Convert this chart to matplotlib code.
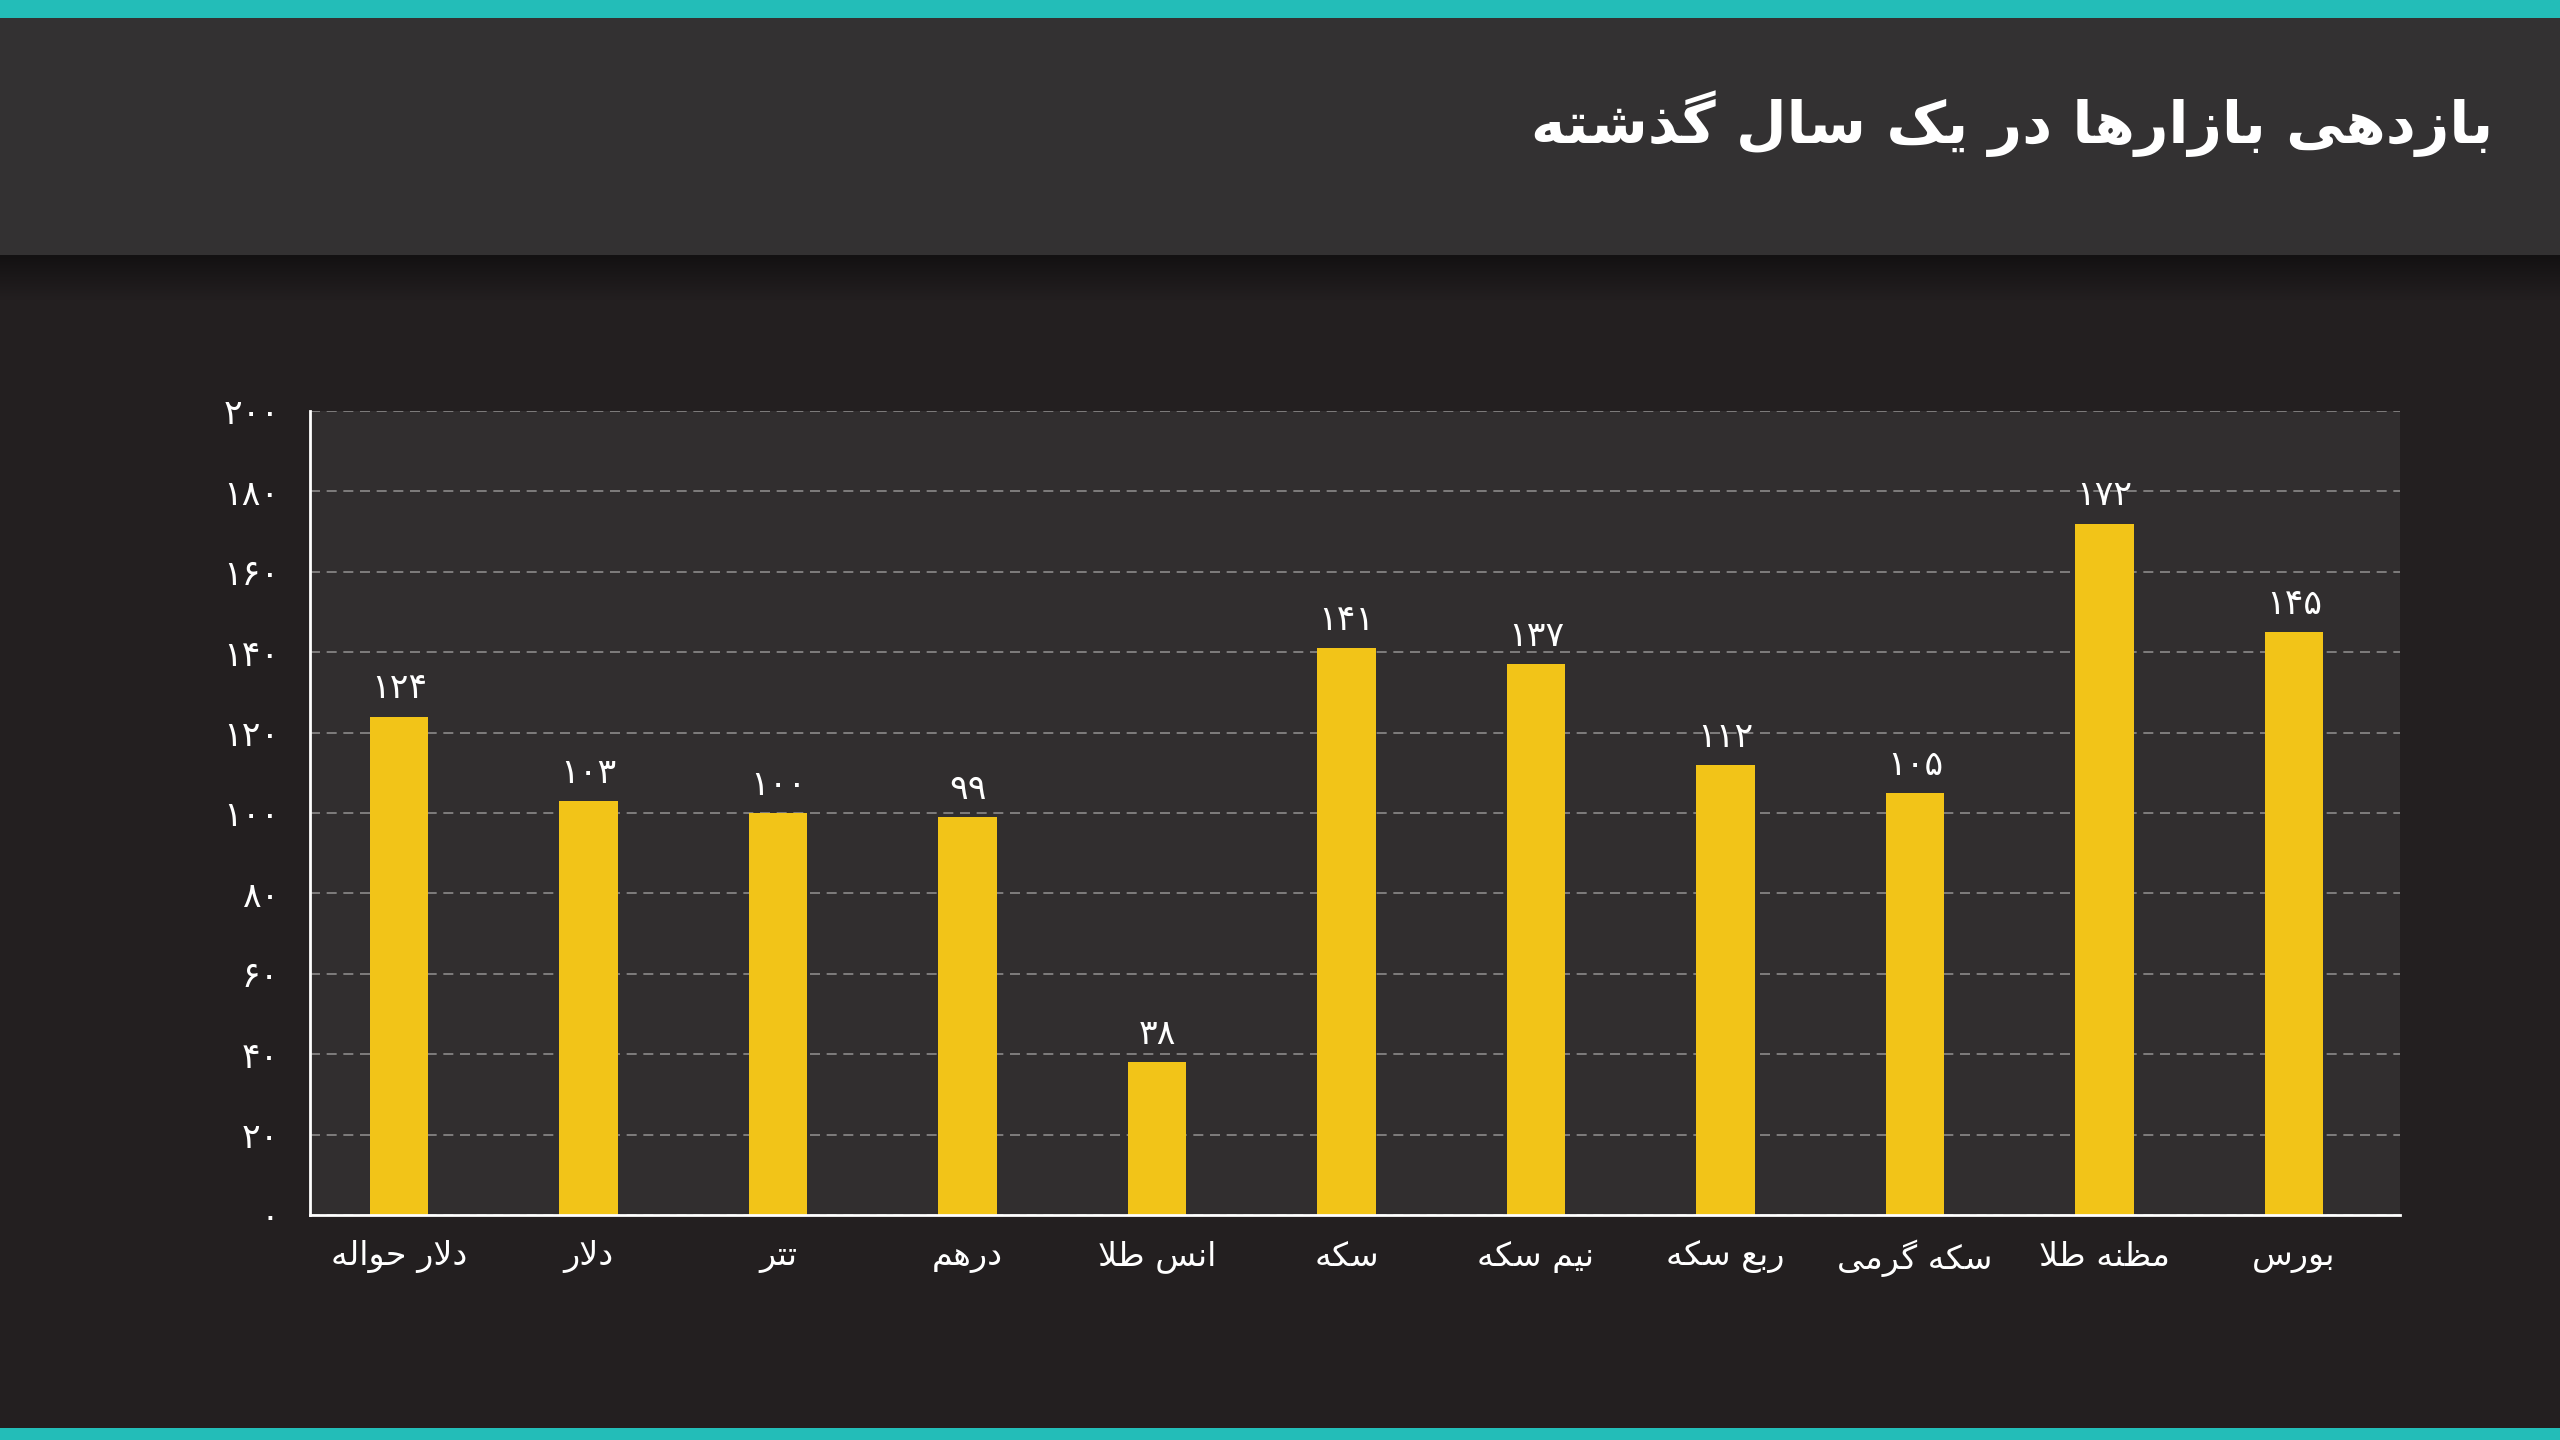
import numpy as np
import matplotlib
matplotlib.use("Agg")
import matplotlib.pyplot as plt
from matplotlib.colors import LinearSegmentedColormap
from matplotlib.patches import Rectangle

plt.rcParams['font.family'] = ['DejaVu Sans']

# data (left to right as shown)
categories = ['دلار حواله', 'دلار', 'تتر', 'درهم', 'انس طلا', 'سکه',
              'نیم سکه', 'ربع سکه', 'سکه گرمی', 'مظنه طلا', 'بورس']
returns = [124, 103, 100, 99, 38, 141, 137, 112, 105, 172, 145]
y_ticks = [0, 20, 40, 60, 80, 100, 120, 140, 160, 180, 200]
title = 'بازدهی بازارها در یک سال گذشته'

# colours
TEAL = '#23bdb8'
HEADER = '#333132'
BG = '#231f20'
PLOT_BG = '#312e2f'
BAR = '#f2c418'
GRID = '#8c8a8a'

# simple arabic/persian shaping: presentation forms (iso, fin, ini, med)
FORMS = {
    'ا': ('\uFE8D', '\uFE8E'),
    'ب': ('\uFE8F', '\uFE90', '\uFE91', '\uFE92'),
    'ت': ('\uFE95', '\uFE96', '\uFE97', '\uFE98'),
    'ح': ('\uFEA1', '\uFEA2', '\uFEA3', '\uFEA4'),
    'د': ('\uFEA9', '\uFEAA'),
    'ذ': ('\uFEAB', '\uFEAC'),
    'ر': ('\uFEAD', '\uFEAE'),
    'ز': ('\uFEAF', '\uFEB0'),
    'س': ('\uFEB1', '\uFEB2', '\uFEB3', '\uFEB4'),
    'ش': ('\uFEB5', '\uFEB6', '\uFEB7', '\uFEB8'),
    'ط': ('\uFEC1', '\uFEC2', '\uFEC3', '\uFEC4'),
    'ظ': ('\uFEC5', '\uFEC6', '\uFEC7', '\uFEC8'),
    'ع': ('\uFEC9', '\uFECA', '\uFECB', '\uFECC'),
    'ل': ('\uFEDD', '\uFEDE', '\uFEDF', '\uFEE0'),
    'م': ('\uFEE1', '\uFEE2', '\uFEE3', '\uFEE4'),
    'ن': ('\uFEE5', '\uFEE6', '\uFEE7', '\uFEE8'),
    'ه': ('\uFEE9', '\uFEEA', '\uFEEB', '\uFEEC'),
    'و': ('\uFEED', '\uFEEE'),
    'ک': ('\uFB8E', '\uFB8F', '\uFB90', '\uFB91'),
    'گ': ('\uFB92', '\uFB93', '\uFB94', '\uFB95'),
    'ی': ('\uFBFC', '\uFBFD', '\uFBFE', '\uFBFF'),
}


def shape(text):
    out = []
    n = len(text)
    i = 0
    while i < n:
        c = text[i]
        if c not in FORMS:
            out.append(c)
            i += 1
            continue
        prev = text[i - 1] if i > 0 else None
        conn_prev = prev in FORMS and len(FORMS[prev]) == 4
        if c == 'ل' and i + 1 < n and text[i + 1] == 'ا':
            out.append('\uFEFC' if conn_prev else '\uFEFB')
            i += 2
            continue
        nxt = text[i + 1] if i + 1 < n else None
        conn_next = len(FORMS[c]) == 4 and nxt in FORMS
        f = FORMS[c]
        if conn_prev and conn_next:
            out.append(f[3])
        elif conn_prev:
            out.append(f[1])
        elif conn_next:
            out.append(f[2])
        else:
            out.append(f[0])
        i += 1
    return ''.join(out)[::-1]


def fa_num(v):
    return str(v).translate(str.maketrans('0123456789', '۰۱۲۳۴۵۶۷۸۹'))


W, H = 2560, 1440
fig = plt.figure(figsize=(25.6, 14.4), dpi=100)
fig.patch.set_facecolor(BG)

# background decoration in pixel coords
bg = fig.add_axes([0, 0, 1, 1], zorder=0)
bg.set_xlim(0, W)
bg.set_ylim(H, 0)
bg.axis('off')
bg.add_patch(Rectangle((0, 0), W, 18, color=TEAL, lw=0))
bg.add_patch(Rectangle((0, 18), W, 237, color=HEADER, lw=0))
shadow = LinearSegmentedColormap.from_list('sh', ['#131112', BG])
bg.imshow(np.linspace(0, 1, 64).reshape(-1, 1), cmap=shadow, aspect='auto',
          extent=(0, W, 300, 255), zorder=1)
bg.add_patch(Rectangle((0, 1428), W, 12, color=TEAL, lw=0))
bg.set_xlim(0, W)
bg.set_ylim(H, 0)
bg.text(2493, 124, shape(title), color='white', fontsize=42,
        fontweight='bold', ha='right', va='center')

# chart
ax = fig.add_axes([310 / W, 1 - 1215 / H, 2090 / W, 804 / H], zorder=2)
ax.set_facecolor(PLOT_BG)
x = np.arange(len(categories))
bars = ax.bar(x, returns, width=0.31, color=BAR, zorder=3)
for b, v in zip(bars, returns):
    ax.annotate(fa_num(v), (b.get_x() + b.get_width() / 2, v),
                xytext=(0, 8), textcoords='offset points',
                ha='center', va='bottom', color='white', fontsize=25)

ax.set_xlim(-0.47, len(categories) - 0.44)
ax.set_ylim(0, 200)
ax.set_yticks(y_ticks)
ax.set_yticklabels([fa_num(t) for t in y_ticks])
ax.set_xticks(x)
ax.set_xticklabels([shape(c) for c in categories])
ax.tick_params(axis='y', length=0, pad=22, labelsize=25, colors='white')
ax.tick_params(axis='x', length=0, pad=18, labelsize=24, colors='white')
ax.grid(axis='y', color=GRID, linestyle=(0, (6, 4)), linewidth=1.2, zorder=1)
for s in ['top', 'right']:
    ax.spines[s].set_visible(False)
for s in ['left', 'bottom']:
    ax.spines[s].set_color('white')
    ax.spines[s].set_linewidth(2)
    ax.spines[s].set_zorder(4)

fig.savefig('out.png', dpi=100, facecolor=BG)
